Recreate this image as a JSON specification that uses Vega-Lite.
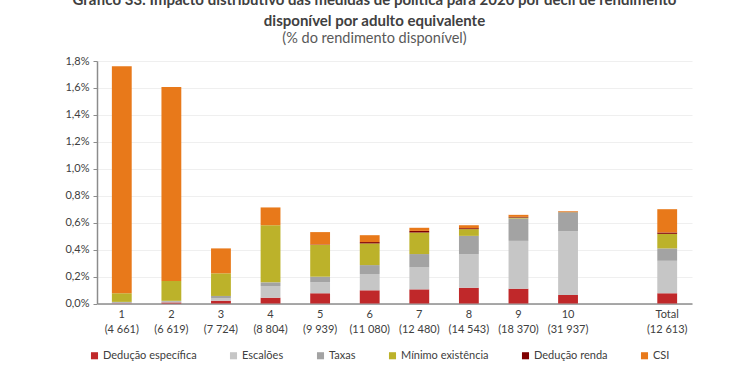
{
  "$schema": "https://vega.github.io/schema/vega-lite/v6.json",
  "autosize": {"type": "none"},
  "width": 595,
  "height": 242.5,
  "padding": {"left": 97, "top": 61, "right": 58, "bottom": 71.5},
  "background": "white",
  "title": {
    "text": ["Gráfico 33: Impacto distributivo das medidas de política para 2020 por decil de rendimento", "disponível por adulto equivalente"],
    "subtitle": "(% do rendimento disponível)",
    "anchor": "middle",
    "frame": "group",
    "dx": -20,
    "offset": 10,
    "font": "Lato",
    "fontSize": 15,
    "fontWeight": "bold",
    "color": "#404040",
    "lineHeight": 21,
    "subtitleFont": "Lato",
    "subtitleFontSize": 14.5,
    "subtitleColor": "#595959",
    "subtitlePadding": 3
  },
  "data": {
    "values": [
      {"d": "1|(4 661)", "s": "Dedução específica", "o": 1, "v": 0.002},
      {"d": "1|(4 661)", "s": "Escalões", "o": 2, "v": 0.004},
      {"d": "1|(4 661)", "s": "Taxas", "o": 3, "v": 0.006},
      {"d": "1|(4 661)", "s": "Mínimo existência", "o": 4, "v": 0.064},
      {"d": "1|(4 661)", "s": "Dedução renda", "o": 5, "v": 0.0},
      {"d": "1|(4 661)", "s": "CSI", "o": 6, "v": 1.685},
      {"d": "2|(6 619)", "s": "Dedução específica", "o": 1, "v": 0.008},
      {"d": "2|(6 619)", "s": "Escalões", "o": 2, "v": 0.006},
      {"d": "2|(6 619)", "s": "Taxas", "o": 3, "v": 0.006},
      {"d": "2|(6 619)", "s": "Mínimo existência", "o": 4, "v": 0.147},
      {"d": "2|(6 619)", "s": "Dedução renda", "o": 5, "v": 0.0},
      {"d": "2|(6 619)", "s": "CSI", "o": 6, "v": 1.44},
      {"d": "3|(7 724)", "s": "Dedução específica", "o": 1, "v": 0.021},
      {"d": "3|(7 724)", "s": "Escalões", "o": 2, "v": 0.02},
      {"d": "3|(7 724)", "s": "Taxas", "o": 3, "v": 0.015},
      {"d": "3|(7 724)", "s": "Mínimo existência", "o": 4, "v": 0.168},
      {"d": "3|(7 724)", "s": "Dedução renda", "o": 5, "v": 0.0},
      {"d": "3|(7 724)", "s": "CSI", "o": 6, "v": 0.185},
      {"d": "4|(8 804)", "s": "Dedução específica", "o": 1, "v": 0.043},
      {"d": "4|(8 804)", "s": "Escalões", "o": 2, "v": 0.087},
      {"d": "4|(8 804)", "s": "Taxas", "o": 3, "v": 0.027},
      {"d": "4|(8 804)", "s": "Mínimo existência", "o": 4, "v": 0.424},
      {"d": "4|(8 804)", "s": "Dedução renda", "o": 5, "v": 0.0},
      {"d": "4|(8 804)", "s": "CSI", "o": 6, "v": 0.132},
      {"d": "5|(9 939)", "s": "Dedução específica", "o": 1, "v": 0.076},
      {"d": "5|(9 939)", "s": "Escalões", "o": 2, "v": 0.081},
      {"d": "5|(9 939)", "s": "Taxas", "o": 3, "v": 0.042},
      {"d": "5|(9 939)", "s": "Mínimo existência", "o": 4, "v": 0.236},
      {"d": "5|(9 939)", "s": "Dedução renda", "o": 5, "v": 0.003},
      {"d": "5|(9 939)", "s": "CSI", "o": 6, "v": 0.092},
      {"d": "6|(11 080)", "s": "Dedução específica", "o": 1, "v": 0.098},
      {"d": "6|(11 080)", "s": "Escalões", "o": 2, "v": 0.121},
      {"d": "6|(11 080)", "s": "Taxas", "o": 3, "v": 0.066},
      {"d": "6|(11 080)", "s": "Mínimo existência", "o": 4, "v": 0.161},
      {"d": "6|(11 080)", "s": "Dedução renda", "o": 5, "v": 0.01},
      {"d": "6|(11 080)", "s": "CSI", "o": 6, "v": 0.051},
      {"d": "7|(12 480)", "s": "Dedução específica", "o": 1, "v": 0.105},
      {"d": "7|(12 480)", "s": "Escalões", "o": 2, "v": 0.163},
      {"d": "7|(12 480)", "s": "Taxas", "o": 3, "v": 0.099},
      {"d": "7|(12 480)", "s": "Mínimo existência", "o": 4, "v": 0.16},
      {"d": "7|(12 480)", "s": "Dedução renda", "o": 5, "v": 0.012},
      {"d": "7|(12 480)", "s": "CSI", "o": 6, "v": 0.023},
      {"d": "8|(14 543)", "s": "Dedução específica", "o": 1, "v": 0.117},
      {"d": "8|(14 543)", "s": "Escalões", "o": 2, "v": 0.25},
      {"d": "8|(14 543)", "s": "Taxas", "o": 3, "v": 0.135},
      {"d": "8|(14 543)", "s": "Mínimo existência", "o": 4, "v": 0.05},
      {"d": "8|(14 543)", "s": "Dedução renda", "o": 5, "v": 0.007},
      {"d": "8|(14 543)", "s": "CSI", "o": 6, "v": 0.022},
      {"d": "9|(18 370)", "s": "Dedução específica", "o": 1, "v": 0.11},
      {"d": "9|(18 370)", "s": "Escalões", "o": 2, "v": 0.355},
      {"d": "9|(18 370)", "s": "Taxas", "o": 3, "v": 0.166},
      {"d": "9|(18 370)", "s": "Mínimo existência", "o": 4, "v": 0.007},
      {"d": "9|(18 370)", "s": "Dedução renda", "o": 5, "v": 0.005},
      {"d": "9|(18 370)", "s": "CSI", "o": 6, "v": 0.015},
      {"d": "10|(31 937)", "s": "Dedução específica", "o": 1, "v": 0.063},
      {"d": "10|(31 937)", "s": "Escalões", "o": 2, "v": 0.472},
      {"d": "10|(31 937)", "s": "Taxas", "o": 3, "v": 0.141},
      {"d": "10|(31 937)", "s": "Mínimo existência", "o": 4, "v": 0.002},
      {"d": "10|(31 937)", "s": "Dedução renda", "o": 5, "v": 0.002},
      {"d": "10|(31 937)", "s": "CSI", "o": 6, "v": 0.005},
      {"d": "Total|(12 613)", "s": "Dedução específica", "o": 1, "v": 0.076},
      {"d": "Total|(12 613)", "s": "Escalões", "o": 2, "v": 0.241},
      {"d": "Total|(12 613)", "s": "Taxas", "o": 3, "v": 0.092},
      {"d": "Total|(12 613)", "s": "Mínimo existência", "o": 4, "v": 0.108},
      {"d": "Total|(12 613)", "s": "Dedução renda", "o": 5, "v": 0.01},
      {"d": "Total|(12 613)", "s": "CSI", "o": 6, "v": 0.173}
    ]
  },
  "mark": {"type": "bar"},
  "encoding": {
    "x": {
      "field": "d",
      "type": "nominal",
      "scale": {
        "domain": ["1|(4 661)", "2|(6 619)", "3|(7 724)", "4|(8 804)", "5|(9 939)", "6|(11 080)", "7|(12 480)", "8|(14 543)", "9|(18 370)", "10|(31 937)", " ", "Total|(12 613)"],
        "paddingInner": 0.6,
        "paddingOuter": 0.3
      },
      "axis": {
        "title": null,
        "labelAngle": 0,
        "labelExpr": "split(datum.label, '|')",
        "ticks": false,
        "labelPadding": 5,
        "labelFont": "Lato",
        "labelFontSize": 11,
        "labelColor": "#404040",
        "labelLineHeight": 15,
        "domainColor": "#8c8c8c",
        "domainWidth": 1.5,
        "grid": false
      }
    },
    "y": {
      "field": "v",
      "type": "quantitative",
      "stack": "zero",
      "scale": {"domain": [0, 1.8], "nice": false},
      "axis": {
        "title": null,
        "values": [0, 0.2, 0.4, 0.6, 0.8, 1.0, 1.2, 1.4, 1.6, 1.8],
        "labelExpr": "replace(format(datum.value, '.1f'), '.', ',') + '%'",
        "labelFont": "Lato",
        "labelFontSize": 11,
        "labelColor": "#404040",
        "labelPadding": 4,
        "tickSize": 4,
        "tickColor": "#8c8c8c",
        "domainColor": "#8c8c8c",
        "domainWidth": 1.5,
        "grid": true,
        "gridColor": "#efefef",
        "gridWidth": 1
      }
    },
    "color": {
      "field": "s",
      "type": "nominal",
      "scale": {
        "domain": ["Dedução específica", "Escalões", "Taxas", "Mínimo existência", "Dedução renda", "CSI"],
        "range": ["#c0282a", "#c6c6c6", "#a3a3a3", "#bcb22a", "#800000", "#e8791a"]
      },
      "legend": {
        "title": null,
        "orient": "none",
        "direction": "horizontal",
        "legendX": -8,
        "legendY": 289,
        "symbolType": "square",
        "symbolSize": 50,
        "symbolStrokeWidth": 0,
        "labelFont": "Lato",
        "labelFontSize": 11,
        "labelColor": "#404040",
        "labelOffset": 3,
        "columnPadding": 31
      }
    },
    "order": {"field": "o", "type": "quantitative"}
  },
  "config": {
    "view": {"stroke": null},
    "font": "Lato"
  }
}
